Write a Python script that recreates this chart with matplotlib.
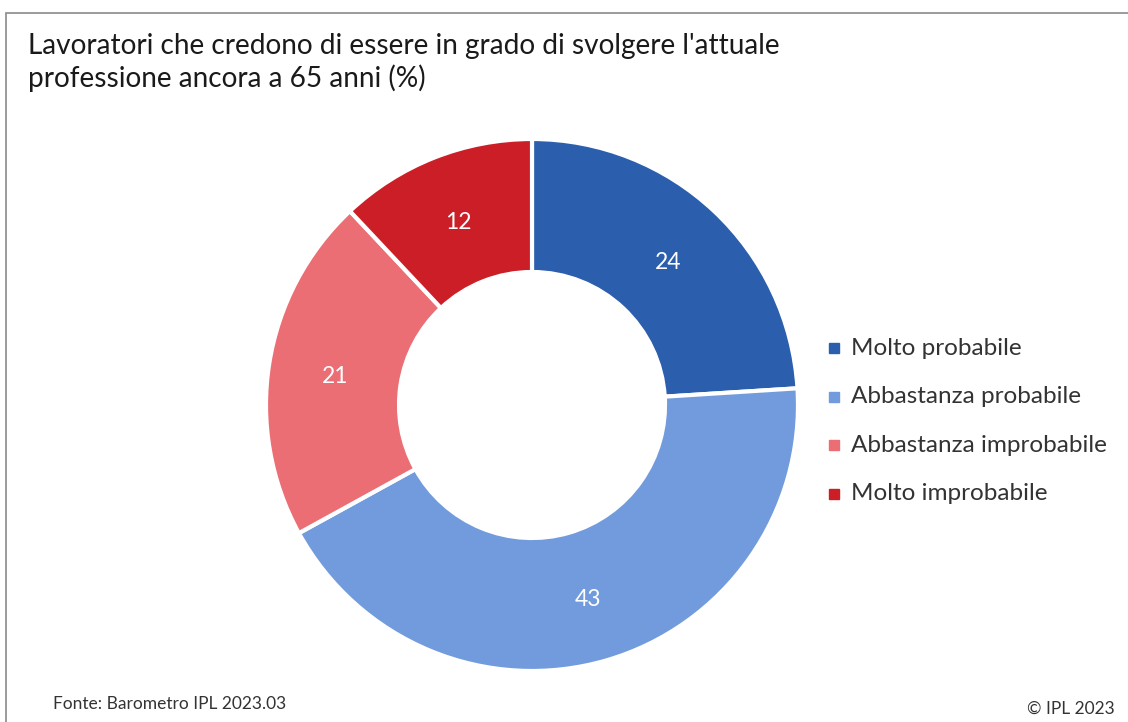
import matplotlib.pyplot as plt
from matplotlib.patches import Rectangle
import numpy as np

plt.rcParams['font.family'] = ['Lato', 'DejaVu Sans']

# dati
categorie = ["Molto probabile", "Abbastanza probabile", "Abbastanza improbabile", "Molto improbabile"]
valori = [24, 43, 21, 12]
colori = ["#2B5EAD", "#729BDD", "#EB6E74", "#CC1E27"]

titolo = "Lavoratori che credono di essere in grado di svolgere l'attuale\nprofessione ancora a 65 anni (%)"
fonte = "Fonte: Barometro IPL 2023.03"
copyright_txt = "\u00a9 IPL 2023"

fig = plt.figure(figsize=(11.28, 7.22), dpi=100)

# cornice grigia (solo lato sinistro e superiore visibili)
fig.add_artist(Rectangle((6 / 1128, -0.1), 1.2, 1.1 - 13 / 722, transform=fig.transFigure,
                         fill=False, edgecolor="#8a8a8a", linewidth=1.2))

# centro ciambella ~ (532, 405), raggio ~ 266 px
cx, cy, r = 532, 405, 266
ax = fig.add_axes([(cx - r) / 1128, 1 - (cy + r) / 722, 2 * r / 1128, 2 * r / 722])

wedges, testi = ax.pie(valori, colors=colori, startangle=90, counterclock=False,
                       radius=1.0, wedgeprops=dict(width=0.5, edgecolor="white", linewidth=3))
ax.set_xlim(-1, 1)
ax.set_ylim(-1, 1)
ax.set_aspect("equal")
ax.axis("off")

angolo = 90.0
for v in valori:
    delta = v / sum(valori) * 360
    mid = np.deg2rad(angolo - delta / 2)
    ax.text(0.75 * np.cos(mid), 0.75 * np.sin(mid) - 0.012, str(v), ha="center", va="center",
            color="white", fontsize=16.5)
    angolo -= delta

# legenda
y0 = 348
for i, (cat, col) in enumerate(zip(categorie, colori)):
    y = 1 - (y0 + i * 48.5) / 722
    fig.add_artist(Rectangle((829 / 1128, y - 5 / 722), 10 / 1128, 10 / 722,
                             transform=fig.transFigure, color=col))
    fig.text(851 / 1128, y, cat, ha="left", va="center", fontsize=17.5, color="#333333")

fig.text(28 / 1128, 1 - 33 / 722, titolo, ha="left", va="top", fontsize=20.2,
         color="#1a1a1a", linespacing=1.25)
fig.text(53 / 1128, 1 - 704 / 722, fonte, ha="left", va="center", fontsize=12.5, color="#333333")
fig.text(1115 / 1128, 1 - 709 / 722, copyright_txt, ha="right", va="center", fontsize=12.5,
         color="#333333")

fig.savefig("out.png", dpi=100, facecolor="white")
